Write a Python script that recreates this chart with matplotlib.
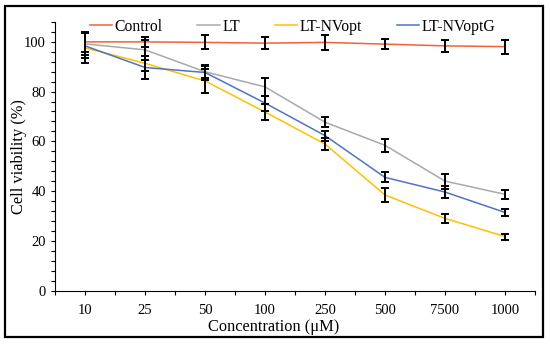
import matplotlib
matplotlib.use("Agg")
import matplotlib.pyplot as plt
from matplotlib.ticker import MultipleLocator, FixedLocator
from matplotlib.patches import Rectangle

plt.rcParams['font.family'] = ['Liberation Serif', 'DejaVu Serif']

concentrations = ["10", "25", "50", "100", "250", "500", "7500", "1000"]

control = [100.0, 100.0, 99.8, 99.5, 99.8, 99.1, 98.4, 98.1]
control_err = [4.0, 2.0, 2.8, 2.3, 2.9, 2.0, 2.3, 2.8]

lt = [99.2, 96.8, 88.0, 81.9, 67.7, 58.4, 44.0, 38.7]
lt_err = [4.5, 4.0, 2.5, 3.6, 2.0, 2.5, 3.0, 1.9]

lt_nvopt = [97.6, 91.4, 84.3, 71.8, 58.9, 38.4, 29.0, 21.7]
lt_nvopt_err = [6.0, 3.0, 4.8, 3.4, 2.5, 2.7, 1.8, 1.2]

lt_nvoptg = [98.4, 89.7, 87.7, 75.4, 62.3, 45.5, 39.6, 31.4]
lt_nvoptg_err = [5.0, 4.8, 3.0, 3.0, 2.0, 2.0, 2.3, 1.5]

series = [
    ("Control", control, control_err, "#F4603A"),
    ("LT", lt, lt_err, "#A9A9A9"),
    ("LT-NVopt", lt_nvopt, lt_nvopt_err, "#FFC000"),
    ("LT-NVoptG", lt_nvoptg, lt_nvoptg_err, "#4F75C0"),
]

fig = plt.figure(figsize=(5.5, 3.44), dpi=100)
ax = fig.add_axes([55/550, 1-290.5/344, 480/550, (290.5-22)/344])

x = list(range(len(concentrations)))
for name, vals, errs, col in series:
    ax.plot(x, vals, color=col, lw=1.1, label=name, zorder=2)
for name, vals, errs, col in series:
    ax.errorbar(x, vals, yerr=errs, fmt='none', ecolor='black', elinewidth=1.4,
                capsize=3, capthick=1.4, zorder=3)

ax.set_xlim(-0.5, len(concentrations) - 0.5)
ax.set_ylim(0, 108)
ax.set_xticks(x)
ax.set_xticklabels(concentrations)
ax.xaxis.set_minor_locator(FixedLocator([i - 0.5 for i in range(len(concentrations) + 1)]))
ax.yaxis.set_major_locator(FixedLocator([0, 20, 40, 60, 80, 100]))
ax.yaxis.set_minor_locator(MultipleLocator(4))
ax.tick_params(axis='both', which='both', direction='out', length=3, width=0.8, labelsize=10.5)
ax.tick_params(axis='x', pad=7)

for s in ['top', 'right']:
    ax.spines[s].set_visible(False)
ax.spines['left'].set_linewidth(0.8)
ax.spines['bottom'].set_linewidth(0.8)

ax.set_ylabel("Cell viability (%)", fontsize=11.8)
ax.yaxis.set_label_coords(-0.058, 0.5)
ax.set_xlabel("Concentration (\u03bcM)", fontsize=11.8)
ax.xaxis.set_label_coords(0.455, -0.108)

leg = ax.legend(ncol=4, loc='upper center', bbox_to_anchor=(0.495, 1.065), frameon=False,
                fontsize=11.3, handlelength=1.45, columnspacing=2.2, handletextpad=0.15)

fig.patches.append(Rectangle((5/550, 1-336.5/344), 538/550, 330.5/344, transform=fig.transFigure,
                             fill=False, edgecolor='black', lw=1.6))

fig.savefig("out.png", dpi=100)
